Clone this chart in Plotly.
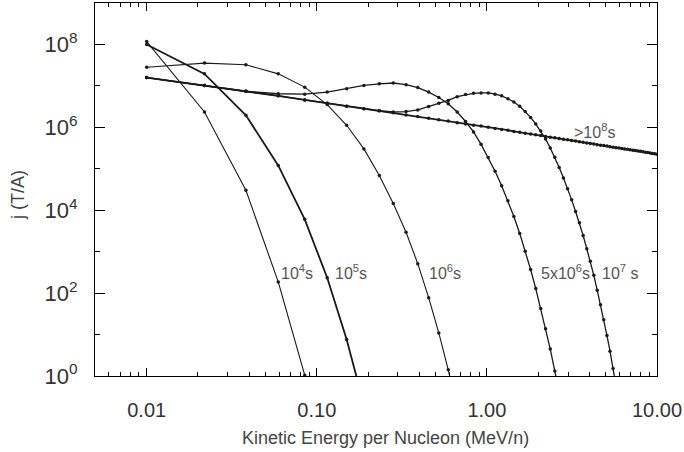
import plotly.graph_objects as go

# Kinetic energy grid (MeV/n)
energy = [0.01, 0.02186, 0.03830, 0.05932, 0.08491, 0.1151, 0.1498, 0.1892, 0.2331, 0.2816,
          0.3347, 0.3923, 0.4545, 0.5214, 0.5927, 0.6687, 0.7493, 0.8344, 0.9241, 1.018,
          1.117, 1.221, 1.329, 1.441, 1.559, 1.680, 1.807, 1.938, 2.073, 2.213,
          2.358, 2.507, 2.661, 2.819, 2.982, 3.150, 3.322, 3.499, 3.680, 3.866,
          4.056, 4.251, 4.451, 4.655, 4.864, 5.077, 5.295, 5.518, 5.745, 5.976,
          6.213, 6.453, 6.699, 6.949, 7.203, 7.462, 7.726, 7.994, 8.267, 8.545,
          8.827, 9.113, 9.405, 9.700, 10.00]

# log10 j(T/A) for each time
log_j_1e4 = [8.07, 6.37, 4.48, 2.27, 0.02, -2.8]
log_j_1e5 = [8.00, 7.29, 6.29, 5.08, 3.78, 2.37, 0.88, -0.69]
log_j_1e6 = [7.45, 7.55, 7.51, 7.29, 6.97, 6.55, 6.05, 5.48, 4.84, 4.16, 3.47, 2.71,
             1.89, 1.04, 0.15, -0.80]
log_j_5e6 = [7.20, 7.01, 6.87, 6.81, 6.80, 6.85, 6.93, 7.01, 7.05, 7.07, 7.03, 6.96,
             6.85, 6.72, 6.57, 6.37, 6.14, 5.89, 5.59, 5.27, 4.94, 4.59, 4.23, 3.85,
             3.44, 3.01, 2.57, 2.11, 1.63, 1.14, 0.65, 0.12, -0.42]
log_j_1e7 = [7.20, 7.01, 6.87, 6.76, 6.66, 6.58, 6.51, 6.45, 6.40, 6.37, 6.38, 6.42,
             6.50, 6.58, 6.65, 6.74, 6.79, 6.82, 6.83, 6.83, 6.80, 6.76, 6.69, 6.61,
             6.51, 6.38, 6.24, 6.08, 5.91, 5.72, 5.50, 5.28, 5.03, 4.78, 4.52, 4.25,
             3.97, 3.70, 3.39, 3.07, 2.77, 2.43, 2.07, 1.72, 1.36, 0.98, 0.60, 0.18, -0.25]
log_j_1e8 = [7.20, 7.01, 6.87, 6.76, 6.66, 6.58, 6.51, 6.45, 6.40, 6.35, 6.30, 6.26,
             6.22, 6.18, 6.15, 6.11, 6.08, 6.05, 6.03, 6.00, 5.97, 5.95, 5.93, 5.90,
             5.88, 5.86, 5.84, 5.82, 5.80, 5.78, 5.76, 5.75, 5.73, 5.71, 5.70, 5.68,
             5.67, 5.65, 5.64, 5.62, 5.61, 5.60, 5.58, 5.57, 5.56, 5.55, 5.53, 5.52,
             5.51, 5.50, 5.49, 5.48, 5.47, 5.46, 5.45, 5.44, 5.43, 5.42, 5.41, 5.40,
             5.39, 5.38, 5.37, 5.36, 5.35]

curve_labels = ["10<sup>4</sup>s", "10<sup>5</sup>s", "10<sup>6</sup>s",
                "5x10<sup>6</sup>s", "10<sup>7</sup> s", "&gt;10<sup>8</sup>s"]

x_tickvals = [0.01, 0.1, 1, 10]
x_ticktext = ["0.01", "0.10", "1.00", "10.00"]
y_tickvals = [1, 1e2, 1e4, 1e6, 1e8]
y_ticktext = ["10<sup>0</sup>", "10<sup>2</sup>", "10<sup>4</sup>", "10<sup>6</sup>", "10<sup>8</sup>"]

series = [(log_j_1e4, 1.1), (log_j_1e5, 1.8), (log_j_1e6, 1.1),
          (log_j_5e6, 1.3), (log_j_1e7, 1.3), (log_j_1e8, 1.8)]

ink = "#1a1a1a"
fig = go.Figure()
for vals, w in series:
    n = len(vals)
    fig.add_trace(go.Scatter(
        x=energy[:n], y=[10 ** v for v in vals], mode="lines+markers",
        line=dict(color=ink, width=w), marker=dict(size=3.5, color=ink),
        showlegend=False, hoverinfo="skip"))

FONT = "Liberation Sans, Arial, sans-serif"
# label positions (log10 E, log10 j)
label_pos = [(-1.22, 2.50), (-0.902, 2.50), (-0.353, 2.50), (0.309, 2.50), (0.667, 2.50), (0.502, 5.90)]
annotations = []
for txt, (lx, ly) in zip(curve_labels, label_pos):
    annotations.append(dict(x=lx, y=ly, xref="x", yref="y", text=txt, showarrow=False,
                            xanchor="left", yanchor="middle",
                            font=dict(family=FONT, size=16, color="#555555")))

annotations.append(dict(x=(385 - 95) / 562, y=(376 - 438) / 373, xref="paper", yref="paper",
                        text="Kinetic Energy per Nucleon (MeV/n)", showarrow=False,
                        xanchor="center", yanchor="middle",
                        font=dict(family=FONT, size=18, color="#444444")))
annotations.append(dict(x=(18 - 95) / 562, y=(376 - 195) / 373, xref="paper", yref="paper",
                        text="j (T/A)", showarrow=False, textangle=-90,
                        xanchor="center", yanchor="middle",
                        font=dict(family=FONT, size=18, color="#444444")))

x_minor = [0.005, 0.006, 0.007, 0.008, 0.009, 0.02, 0.03, 0.04, 0.05, 0.06, 0.07, 0.08, 0.09,
           0.2, 0.3, 0.4, 0.5, 0.6, 0.7, 0.8, 0.9, 2, 3, 4, 5, 6, 7, 8, 9]
y_minor = [10, 1e3, 1e5, 1e7]

fig.update_layout(
    width=684, height=452,
    margin=dict(l=95, r=27, t=3, b=76),
    paper_bgcolor="white", plot_bgcolor="white",
    font=dict(family=FONT, color="#333333"),
    annotations=annotations,
    xaxis=dict(type="log", range=[-2.304, 1.0], showline=True, linecolor="black", linewidth=1,
               mirror="ticks", ticks="inside", ticklen=8, tickwidth=1, tickcolor="black",
               tickmode="array", tickvals=x_tickvals, ticktext=x_ticktext,
               tickfont=dict(size=20, color="#333333"), ticklabelstandoff=16,
               showgrid=False, zeroline=False,
               minor=dict(ticks="inside", ticklen=4, tickwidth=1, tickcolor="black",
                          tickmode="array", tickvals=x_minor, showgrid=False)),
    yaxis=dict(type="log", range=[0, 9], showline=True, linecolor="black", linewidth=1,
               mirror="ticks", ticks="inside", ticklen=10, tickwidth=1, tickcolor="black",
               tickmode="array", tickvals=y_tickvals, ticktext=y_ticktext,
               tickfont=dict(size=22, color="#333333"), ticklabelstandoff=12,
               showgrid=False, zeroline=False,
               minor=dict(ticks="inside", ticklen=5, tickwidth=1, tickcolor="black",
                          tickmode="array", tickvals=y_minor, showgrid=False)),
)

fig.write_html("out.html", config={"displayModeBar": False},
               post_script="document.body.style.margin='0px';")
